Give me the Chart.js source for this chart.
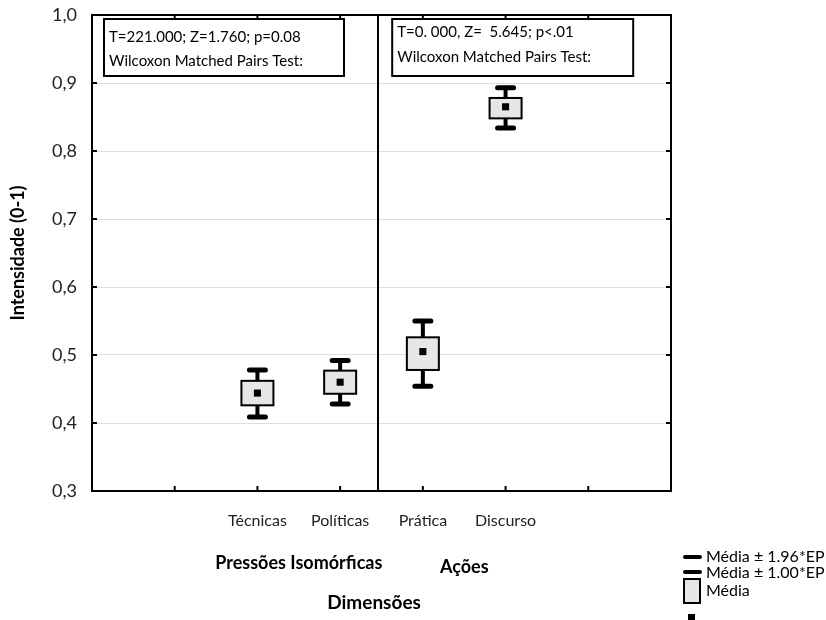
<!DOCTYPE html>
<html>
<head>
<meta charset="utf-8">
<script src="https://cdn.jsdelivr.net/npm/chart.js@4.4.0/dist/chart.umd.min.js"></script>
<style>
html, body { margin: 0; padding: 0; background: #fff; }
</style>
</head>
<body>
<canvas id="myChart" width="826" height="620"></canvas>
<script>
var categorias = ['Técnicas', 'Políticas', 'Prática', 'Discurso'];
var posicoes = [2, 3, 4, 5];
var medias = [0.444, 0.460, 0.505, 0.865];
var epBaixo = [0.426, 0.443, 0.478, 0.848];   // média - 1.00*EP
var epAlto = [0.462, 0.477, 0.526, 0.878];    // média + 1.00*EP
var icBaixo = [0.409, 0.428, 0.454, 0.834];   // média - 1.96*EP
var icAlto = [0.478, 0.492, 0.550, 0.893];    // média + 1.96*EP
var grupos = ['Pressões Isomórficas', 'Ações'];
var posGrupos = [2.5, 4.5];
var divisor = 3.46;
var testes = [
    ['T=221.000; Z=1.760; p=0.08', 'Wilcoxon Matched Pairs Test:'],
    ['T=0. 000, Z=  5.645; p<.01', 'Wilcoxon Matched Pairs Test:']
];

var fonte = 'Lato, "Noto Sans", sans-serif';

// desenha caixas, bigodes e anotações
var caixasPlugin = {
    id: 'caixas',
    beforeDatasetsDraw: function (chart) {
        var ctx = chart.ctx, x = chart.scales.x, y = chart.scales.y, area = chart.chartArea;
        ctx.save();
        // linha divisória
        var dx = Math.round(x.getPixelForValue(divisor));
        ctx.strokeStyle = '#000';
        ctx.lineWidth = 2;
        ctx.beginPath();
        ctx.moveTo(dx, area.top);
        ctx.lineTo(dx, area.bottom);
        ctx.stroke();

        posicoes.forEach(function (p, i) {
            var cx = x.getPixelForValue(p);
            var yIcA = y.getPixelForValue(icAlto[i]);
            var yIcB = y.getPixelForValue(icBaixo[i]);
            var yEpA = y.getPixelForValue(epAlto[i]);
            var yEpB = y.getPixelForValue(epBaixo[i]);
            ctx.strokeStyle = '#000';
            ctx.lineWidth = 4;
            ctx.lineCap = 'butt';
            ctx.beginPath();
            ctx.moveTo(cx, yIcA); ctx.lineTo(cx, yEpA);
            ctx.moveTo(cx, yIcB); ctx.lineTo(cx, yEpB);
            ctx.stroke();
            ctx.lineWidth = 5;
            ctx.lineCap = 'round';
            ctx.beginPath();
            ctx.moveTo(cx - 8, yIcA); ctx.lineTo(cx + 8, yIcA);
            ctx.moveTo(cx - 8, yIcB); ctx.lineTo(cx + 8, yIcB);
            ctx.stroke();
            ctx.lineCap = 'butt';
            ctx.fillStyle = '#e6e6e6';
            ctx.fillRect(cx - 16, yEpA, 32, yEpB - yEpA);
            ctx.lineWidth = 2;
            ctx.strokeRect(cx - 16, yEpA, 32, yEpB - yEpA);
        });
        ctx.restore();
    },
    afterDraw: function (chart) {
        var ctx = chart.ctx, x = chart.scales.x, y = chart.scales.y, area = chart.chartArea;
        ctx.save();
        ctx.strokeStyle = '#000';
        ctx.lineWidth = 2;
        ctx.strokeRect(area.left, area.top, area.right - area.left, area.bottom - area.top);

        // marcas internas
        ctx.beginPath();
        y.ticks.forEach(function (t) {
            var py = y.getPixelForValue(t.value);
            ctx.moveTo(area.left, py); ctx.lineTo(area.left + 5, py);
            ctx.moveTo(area.right - 5, py); ctx.lineTo(area.right, py);
        });
        [1, 2, 3, 4, 5, 6].forEach(function (v) {
            var px = x.getPixelForValue(v);
            ctx.moveTo(px, area.top); ctx.lineTo(px, area.top + 5);
            ctx.moveTo(px, area.bottom); ctx.lineTo(px, area.bottom - 5);
        });
        ctx.stroke();

        // caixas de teste
        var dx = x.getPixelForValue(divisor);
        var caixas = [[area.left + 12, area.top + 4, 240, 57, 22, 46], [dx + 14, area.top + 4, 241, 57, 17, 42]];
        caixas.forEach(function (c, i) {
            ctx.fillStyle = '#fff';
            ctx.fillRect(c[0], c[1], c[2], c[3]);
            ctx.lineWidth = 2;
            ctx.strokeRect(c[0], c[1], c[2], c[3]);
            ctx.fillStyle = '#000';
            ctx.font = '15px ' + fonte;
            ctx.textAlign = 'left';
            ctx.textBaseline = 'middle';
            ctx.fillText(testes[i][0], c[0] + 5, c[1] + c[4] - 4);
            ctx.fillText(testes[i][1], c[0] + 5, c[1] + c[5] - 4);
        });

        // rótulos dos grupos
        ctx.font = 'bold 18px ' + fonte;
        ctx.textAlign = 'center';
        grupos.forEach(function (g, i) {
            ctx.fillText(g, x.getPixelForValue(posGrupos[i]), area.bottom + 72 + (i ? 4 : 0));
        });

        // título do eixo x
        ctx.font = 'bold 19px ' + fonte;
        ctx.fillText('Dimensões', x.getPixelForValue(3.41), area.bottom + 112);

        // legenda
        ctx.textAlign = 'left';
        ctx.font = '16px ' + fonte;
        ctx.lineWidth = 4;
        ctx.lineCap = 'round';
        ctx.beginPath();
        ctx.moveTo(685, 557); ctx.lineTo(700, 557);
        ctx.moveTo(685, 572); ctx.lineTo(700, 572);
        ctx.stroke();
        ctx.lineCap = 'butt';
        ctx.fillStyle = '#e6e6e6';
        ctx.fillRect(684, 579, 16, 24);
        ctx.lineWidth = 2;
        ctx.strokeRect(684, 579, 16, 24);
        ctx.fillStyle = '#000';
        ctx.fillRect(688, 614, 7, 7);
        ctx.fillText('Média ± 1.96*EP', 706, 557);
        ctx.fillText('Média ± 1.00*EP', 706, 573);
        ctx.fillText('Média', 706, 591);
        ctx.restore();
    }
};

var ctx = document.getElementById('myChart').getContext('2d');

var myChart = new Chart(ctx, {
    type: 'scatter',
    data: {
        datasets: [{
            label: 'Média',
            data: posicoes.map((p, i) => ({ x: p, y: medias[i] })),
            pointStyle: 'rect',
            pointRadius: 5,
            pointHoverRadius: 5,
            backgroundColor: '#000',
            borderWidth: 0
        }]
    },
    options: {
        responsive: false,
        animation: false,
        layout: { padding: { left: 0, top: 15, right: 155, bottom: 0 } },
        plugins: {
            legend: { display: false },
            tooltip: { enabled: false }
        },
        scales: {
            x: {
                type: 'linear',
                min: 0,
                max: 7,
                grid: { display: false },
                border: { display: false },
                ticks: {
                    stepSize: 1,
                    autoSkip: false,
                    maxRotation: 0,
                    padding: 12,
                    color: '#222',
                    font: { family: fonte, size: 16 },
                    callback: function (v) {
                        var i = posicoes.indexOf(v);
                        return i >= 0 ? categorias[i] : '';
                    }
                },
                afterFit: function (s) { s.height = 129; }
            },
            y: {
                min: 0.3,
                max: 1.0,
                grid: { color: '#dddddd', drawTicks: true, tickLength: 15, tickColor: 'rgba(0,0,0,0)' },
                border: { display: false },
                ticks: {
                    stepSize: 0.1,
                    padding: 0,
                    color: '#222',
                    font: { family: fonte, size: 18 },
                    callback: v => v.toFixed(1).replace('.', ',')
                },
                title: {
                    display: true,
                    text: 'Intensidade (0-1)',
                    color: '#000',
                    font: { family: fonte, size: 18, weight: 'bold' },
                    padding: { top: 7, bottom: 0 }
                },
                afterFit: function (s) { s.width = 92; }
            }
        }
    },
    plugins: [caixasPlugin]
});
</script>
</body>
</html>
